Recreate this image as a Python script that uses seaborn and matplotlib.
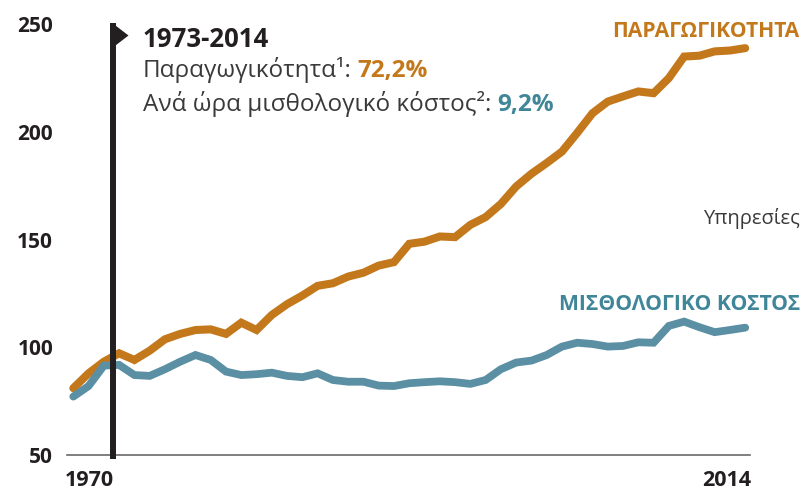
import matplotlib
matplotlib.use("Agg")
import matplotlib.pyplot as plt
from matplotlib.transforms import ScaledTranslation
import pandas as pd
import seaborn as sns

# Values (index, 1970 = first point)
years = list(range(1970, 2015))
productivity = [81.0, 87.9, 93.3, 97.2, 94.1, 98.4, 103.7, 106.2, 108.0, 108.3,
                106.2, 111.4, 108.0, 115.0, 120.0, 124.0, 128.5, 129.7, 132.8, 134.6,
                137.9, 139.5, 148.0, 149.0, 151.4, 151.1, 156.8, 160.4, 166.5, 174.6,
                180.5, 185.5, 190.8, 199.5, 208.6, 214.0, 216.4, 218.7, 217.9, 224.9,
                234.9, 235.3, 237.3, 237.7, 238.8]
labour_cost = [77.1, 82.0, 91.5, 91.8, 87.1, 86.7, 89.8, 93.3, 96.4, 94.1,
               88.7, 87.1, 87.5, 88.2, 86.7, 86.1, 87.9, 84.8, 84.0, 84.0,
               82.2, 82.0, 83.3, 83.8, 84.2, 83.8, 83.0, 84.8, 89.8, 92.9,
               93.8, 96.4, 100.3, 102.1, 101.5, 100.3, 100.6, 102.3, 102.1, 109.9,
               111.9, 109.3, 107.0, 108.0, 109.1]
y_ticks = [50, 100, 150, 200, 250]
x_labels = ["1970", "2014"]
period_start = 1972.6

ORANGE = "#c4781c"
TEAL_LINE = "#5b8fa3"
TEAL_TEXT = "#3f8699"
DARK = "#231f20"
GREY_TEXT = "#3a3a3a"

sns.set_style("white")
plt.rcParams["font.family"] = ["Open Sans", "DejaVu Sans"]

df = pd.DataFrame({"year": years, "prod": productivity, "cost": labour_cost})

fig = plt.figure(figsize=(8.03, 5.0), dpi=100)
ax = fig.add_axes([67 / 803, 45 / 500, 683 / 803, 435.3 / 500])

sns.lineplot(data=df, x="year", y="prod", ax=ax, color=ORANGE, linewidth=5.8,
             solid_capstyle="round", solid_joinstyle="miter")
sns.lineplot(data=df, x="year", y="cost", ax=ax, color=TEAL_LINE, linewidth=5.6,
             solid_capstyle="round", solid_joinstyle="miter")

ax.set_xlim(1969.587, 2014.314)
ax.set_ylim(50, 252)
ax.set_xlabel("")
ax.set_ylabel("")

# axes styling
for side in ["top", "right", "left"]:
    ax.spines[side].set_visible(False)
ax.spines["bottom"].set_color("#6a6a6a")
ax.spines["bottom"].set_linewidth(1.2)

ax.set_yticks(y_ticks)
ax.set_yticklabels([str(v) for v in y_ticks], fontweight="bold", color=DARK)
ax.tick_params(axis="y", direction="in", length=13, width=1.0, color="#555555",
               pad=10, labelsize=15)

ax.set_xticks([years[0], years[-1]])
ax.set_xticklabels(x_labels, fontweight="bold", color=DARK)
ax.tick_params(axis="x", length=0, pad=11, labelsize=15.5)
shifts = [16, -18]
for lab, dx in zip(ax.get_xticklabels(), shifts):
    lab.set_transform(lab.get_transform() + ScaledTranslation(dx / 100, 0, fig.dpi_scale_trans))

# vertical marker for the period start, with a small flag
ax.plot([period_start, period_start], [48.1, 250.6], color=DARK, linewidth=4.3,
        solid_capstyle="butt", clip_on=False, zorder=5)
ax.plot([period_start], [244.8], marker=[(0, 1), (0, -1), (1.3, 0), (0, 1)],
        markersize=21.6, color=DARK, markeredgewidth=0, clip_on=False, zorder=5)

# header text
fig.text(143 / 803, 1 - 47 / 500, "1973-2014", fontsize=18.5, fontweight="bold",
         color=DARK, va="baseline")
t1 = fig.text(143 / 803, 1 - 77 / 500, "Παραγωγικότητα¹:", fontsize=17.5,
              color=GREY_TEXT, va="baseline")
ax.annotate("72,2%", xy=(1, 0), xycoords=t1, xytext=(4, 0), textcoords="offset points",
            fontsize=17.5, fontweight="bold", color=ORANGE, va="bottom", ha="left")
t2 = fig.text(143 / 803, 1 - 111 / 500, "Ανά ώρα μισθολογικό κόστος²:", fontsize=17.5,
              color=GREY_TEXT, va="baseline")
ax.annotate("9,2%", xy=(1, 0), xycoords=t2, xytext=(4, 0), textcoords="offset points",
            fontsize=17.5, fontweight="bold", color=TEAL_TEXT, va="bottom", ha="left")

# series labels on the right
fig.text(799 / 803, 1 - 37 / 500, "ΠΑΡΑΓΩΓΙΚΟΤΗΤΑ", fontsize=15.2, fontweight="bold",
         color=ORANGE, ha="right", va="baseline")
fig.text(800 / 803, 1 - 224 / 500, "Υπηρεσίες", fontsize=14.5, color=GREY_TEXT,
         ha="right", va="baseline")
fig.text(800 / 803, 1 - 310 / 500, "ΜΙΣΘΟΛΟΓΙΚΟ ΚΟΣΤΟΣ", fontsize=15.2, fontweight="bold",
         color=TEAL_TEXT, ha="right", va="baseline")

fig.savefig("out.png", dpi=100)
